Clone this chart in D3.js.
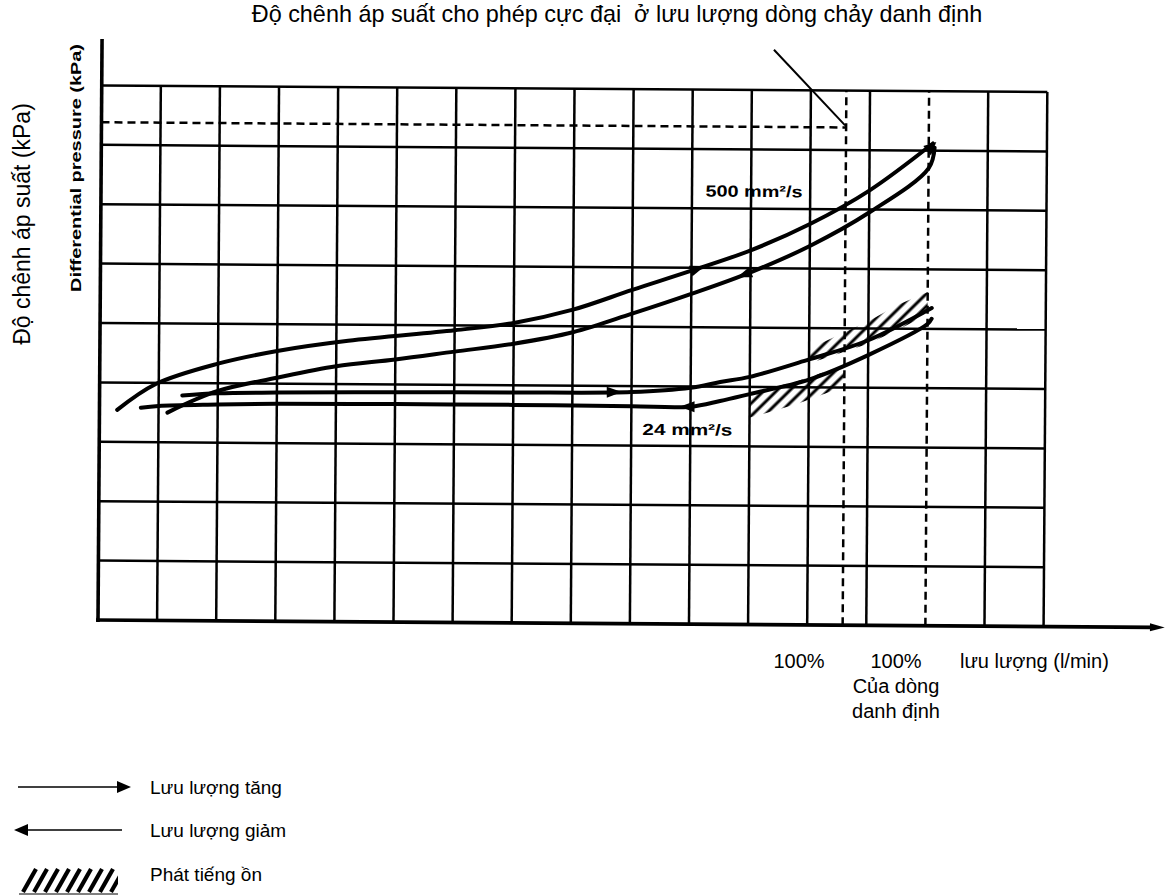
<!DOCTYPE html>
<html>
<head>
<meta charset="utf-8">
<script src="https://cdn.jsdelivr.net/npm/d3@7"></script>
<style>
  body { margin: 0; background: #fff; }
  text { font-family: "Liberation Sans", Arial, sans-serif; fill: #000; white-space: pre; }
</style>
</head>
<body>
<svg id="chart" width="1167" height="896"></svg>
<script>
// values are in grid units: one square of the chart paper = 1
const gridCols = 16;
const gridRows = 9;
const solidCols = [1, 2, 3, 4, 5, 6, 7, 8, 9, 10, 11, 12, 13, 15, 16];
const solidRows = [1, 2, 3, 4, 5, 6, 7, 8, 9];
const dashedCols = [12.6, 14];
const maxPressureLevel = 8.38;
const maxPressureFlow = 12.6;

// 500 mm2/s, flow rising (upper branch) and falling (lower branch)
const visc500UpX = [0.3, 0.95, 2.0, 3.0, 4.2, 6.0, 7.0, 8.0, 9.0, 10.0, 11.0, 12.0, 13.0, 14.07];
const visc500UpY = [3.54, 3.98, 4.33, 4.55, 4.73, 4.92, 5.05, 5.28, 5.62, 5.95, 6.3, 6.75, 7.32, 8.12];
const visc500DownX = [14.1, 14.0, 13.0, 12.0, 11.0, 10.0, 9.0, 8.0, 7.0, 6.0, 5.0, 4.0, 3.0, 2.0, 1.15];
const visc500DownY = [8.05, 7.7, 6.95, 6.38, 5.93, 5.56, 5.22, 4.9, 4.7, 4.56, 4.42, 4.3, 4.1, 3.87, 3.5];

// 24 mm2/s
const visc24UpX = [1.4, 2.0, 3.0, 5.0, 7.0, 9.0, 10.0, 10.5, 11.0, 12.0, 13.0, 14.07];
const visc24UpY = [3.79, 3.83, 3.85, 3.87, 3.88, 3.9, 3.98, 4.08, 4.17, 4.47, 4.8, 5.35];
const visc24DownX = [14.07, 14.0, 13.0, 12.0, 11.0, 10.5, 10.0, 9.0, 7.0, 5.0, 3.0, 2.0, 1.0, 0.7];
const visc24DownY = [5.17, 5.08, 4.55, 4.13, 3.88, 3.76, 3.66, 3.66, 3.67, 3.67, 3.66, 3.64, 3.61, 3.58];

// noise zones (hatched)
const noiseUpperX = [12.0, 13.0, 13.5, 14.0];
const noiseUpperLo = [4.4, 4.74, 4.98, 5.24];
const noiseUpperHi = [4.65, 5.12, 5.4, 5.62];
const noiseLowerX = [11.0, 11.8, 12.6];
const noiseLowerHi = [3.9, 4.1, 4.38];
const noiseLowerLo = [3.48, 3.72, 4.02];

// arrow heads: series index, flow position
const arrowSeries = [0, 1, 2, 3];
const arrowAt = [10.1, 10.9, 8.7, 9.95];

const titleText = "Độ chênh áp suất cho phép cực đại  ở lưu lượng dòng chảy danh định";
const yLabelVi = "Độ chênh áp suất (kPa)";
const yLabelEn = "Differential pressure (kPa)";
const legendLabels = ["Lưu lượng tăng", "Lưu lượng giảm", "Phát tiếng ồn"];

const svg = d3.select("#chart");

const x = d3.scaleLinear().domain([0, gridCols]).range([98, 98 + 59.1 * gridCols]);
const y = d3.scaleLinear().domain([0, gridRows]).range([620, 620 - 59.4 * gridRows]);

const defs = svg.append("defs");
defs.append("pattern")
    .attr("id", "hatch")
    .attr("patternUnits", "userSpaceOnUse")
    .attr("width", 9).attr("height", 9)
    .attr("patternTransform", "rotate(45)")
    .append("line")
    .attr("x1", 2).attr("y1", 0).attr("x2", 2).attr("y2", 9)
    .attr("stroke", "#000").attr("stroke-width", 3);

// scanned sheet is a little bit rotated
const plot = svg.append("g").attr("transform", "rotate(0.4,98,620)");

// grid
plot.selectAll(".vgrid").data(solidCols).join("line")
    .attr("class", "vgrid")
    .attr("x1", d => x(d)).attr("x2", d => x(d))
    .attr("y1", y(0)).attr("y2", y(gridRows))
    .attr("stroke", "#000").attr("stroke-width", 2.5);

plot.selectAll(".hgrid").data(solidRows).join("line")
    .attr("class", "hgrid")
    .attr("x1", x(0)).attr("x2", x(gridCols))
    .attr("y1", d => y(d)).attr("y2", d => y(d))
    .attr("stroke", "#000").attr("stroke-width", 2.5);

plot.selectAll(".dcol").data(dashedCols).join("line")
    .attr("class", "dcol")
    .attr("x1", d => x(d)).attr("x2", d => x(d))
    .attr("y1", y(0)).attr("y2", y(gridRows))
    .attr("stroke", "#000").attr("stroke-width", 2.5)
    .attr("stroke-dasharray", "8,5");

plot.append("line")
    .attr("x1", x(0)).attr("x2", x(maxPressureFlow))
    .attr("y1", y(maxPressureLevel)).attr("y2", y(maxPressureLevel))
    .attr("stroke", "#000").attr("stroke-width", 2.5)
    .attr("stroke-dasharray", "8,5");

// axes
plot.append("line")
    .attr("x1", x(0)).attr("x2", x(0))
    .attr("y1", y(0) + 2).attr("y2", y(9.78))
    .attr("stroke", "#000").attr("stroke-width", 3.6);

plot.append("line")
    .attr("x1", x(0) - 2).attr("x2", x(17.85))
    .attr("y1", y(0)).attr("y2", y(0))
    .attr("stroke", "#000").attr("stroke-width", 3.6);

plot.append("path")
    .attr("d", `M${x(18.05)},${y(0)} L${x(17.8)},${y(0) - 4} L${x(17.8)},${y(0) + 4} Z`)
    .attr("fill", "#000");

// annotation pointer to the max pressure corner
plot.append("line")
    .attr("x1", x(11.37)).attr("y1", y(9.68))
    .attr("x2", x(maxPressureFlow) - 1).attr("y2", y(maxPressureLevel) - 2)
    .attr("stroke", "#000").attr("stroke-width", 2);

// noise hatching
const band = (xs, lo, hi) => {
    const top = xs.map((v, i) => [x(v), y(hi[i])]);
    const bottom = xs.map((v, i) => [x(v), y(lo[i])]).reverse();
    return d3.line().curve(d3.curveLinearClosed)(top.concat(bottom));
};
plot.append("path").attr("d", band(noiseUpperX, noiseUpperLo, noiseUpperHi)).attr("fill", "url(#hatch)");
plot.append("path").attr("d", band(noiseLowerX, noiseLowerLo, noiseLowerHi)).attr("fill", "url(#hatch)");

// curves
const series = [
    d3.zip(visc500UpX, visc500UpY),
    d3.zip(visc500DownX, visc500DownY),
    d3.zip(visc24UpX, visc24UpY),
    d3.zip(visc24DownX, visc24DownY)
];

const line = d3.line()
    .x(d => x(d[0]))
    .y(d => y(d[1]))
    .curve(d3.curveCatmullRom.alpha(0.5));

plot.selectAll(".curve").data(series).join("path")
    .attr("class", "curve")
    .attr("d", line)
    .attr("fill", "none")
    .attr("stroke", "#000")
    .attr("stroke-width", 4)
    .attr("stroke-linecap", "round");

// arrow heads along the curves (direction = order of points)
function placeArrow(pts, at) {
    for (let i = 0; i < pts.length - 1; i++) {
        const a = pts[i], b = pts[i + 1];
        const lo = Math.min(a[0], b[0]), hi = Math.max(a[0], b[0]);
        if (at >= lo && at <= hi) {
            const t = (at - a[0]) / (b[0] - a[0]);
            const px = x(at), py = y(a[1] + t * (b[1] - a[1]));
            const ang = Math.atan2(y(b[1]) - y(a[1]), x(b[0]) - x(a[0])) * 180 / Math.PI;
            return { px, py, ang };
        }
    }
    return null;
}

arrowSeries.forEach((s, i) => {
    const p = placeArrow(series[s], arrowAt[i]);
    if (!p) return;
    plot.append("path")
        .attr("d", "M8,0 L-7,-5.5 L-7,5.5 Z")
        .attr("transform", `translate(${p.px},${p.py}) rotate(${p.ang})`)
        .attr("fill", "#000");
});

// blob at the turning point of the 500 curve
plot.append("path")
    .attr("d", "M7,-2 L-6,-6 L-5,6 Z")
    .attr("transform", `translate(${x(14.05)},${y(8.05)}) rotate(-35)`)
    .attr("fill", "#000");

// curve labels
plot.append("text")
    .attr("x", x(11.05)).attr("y", y(7.2))
    .attr("text-anchor", "middle")
    .attr("font-size", 16).attr("font-weight", "bold")
    .attr("textLength", 97).attr("lengthAdjust", "spacingAndGlyphs")
    .text("500 mm²/s");

plot.append("text")
    .attr("x", x(9.95)).attr("y", y(3.18))
    .attr("text-anchor", "middle")
    .attr("font-size", 16).attr("font-weight", "bold")
    .attr("textLength", 90).attr("lengthAdjust", "spacingAndGlyphs")
    .text("24 mm²/s");

// scanned english axis title
svg.append("text")
    .attr("transform", "translate(81,168) rotate(-90)")
    .attr("text-anchor", "middle")
    .attr("font-size", 15).attr("font-weight", "bold")
    .attr("textLength", 248).attr("lengthAdjust", "spacingAndGlyphs")
    .text(yLabelEn);

// vietnamese texts
svg.append("text")
    .attr("x", 617).attr("y", 22)
    .attr("text-anchor", "middle")
    .attr("font-size", 23.4)
    .text(titleText);

svg.append("text")
    .attr("transform", "translate(30,224) rotate(-90)")
    .attr("text-anchor", "middle")
    .attr("font-size", 23)
    .text(yLabelVi);

const bottomLabels = [
    { t: "100%", x: 799, y: 668, a: "middle" },
    { t: "100%", x: 896, y: 668, a: "middle" },
    { t: "Của dòng", x: 896, y: 693, a: "middle" },
    { t: "danh định", x: 896, y: 718, a: "middle" },
    { t: "lưu lượng (l/min)", x: 960, y: 668, a: "start" }
];
svg.selectAll(".blab").data(bottomLabels).join("text")
    .attr("class", "blab")
    .attr("x", d => d.x).attr("y", d => d.y)
    .attr("text-anchor", d => d.a)
    .attr("font-size", 20)
    .text(d => d.t);

// legend
const legend = svg.append("g");
legend.append("line").attr("x1", 18).attr("x2", 120).attr("y1", 787).attr("y2", 787)
    .attr("stroke", "#000").attr("stroke-width", 1.5);
legend.append("path").attr("d", "M131,787 L117,781 L117,793 Z").attr("fill", "#000");

legend.append("line").attr("x1", 26).attr("x2", 122).attr("y1", 830).attr("y2", 830)
    .attr("stroke", "#000").attr("stroke-width", 1.5);
legend.append("path").attr("d", "M14,830 L28,824 L28,836 Z").attr("fill", "#000");

const hatchStrokes = d3.range(0, 9);
legend.selectAll(".lh").data(hatchStrokes).join("line")
    .attr("class", "lh")
    .attr("x1", d => 23 + d * 11).attr("y1", 892)
    .attr("x2", d => 36 + d * 11).attr("y2", 869)
    .attr("stroke", "#000").attr("stroke-width", 4.2);
legend.append("line").attr("x1", 19).attr("x2", 121).attr("y1", 894).attr("y2", 894)
    .attr("stroke", "#000").attr("stroke-width", 1);
legend.append("rect").attr("x", 118).attr("y", 860).attr("width", 20).attr("height", 36).attr("fill", "#fff");

legend.selectAll(".ltext").data(legendLabels).join("text")
    .attr("class", "ltext")
    .attr("x", 150)
    .attr("y", (d, i) => [794, 837, 881][i])
    .attr("font-size", 19)
    .text(d => d);
</script>
</body>
</html>
